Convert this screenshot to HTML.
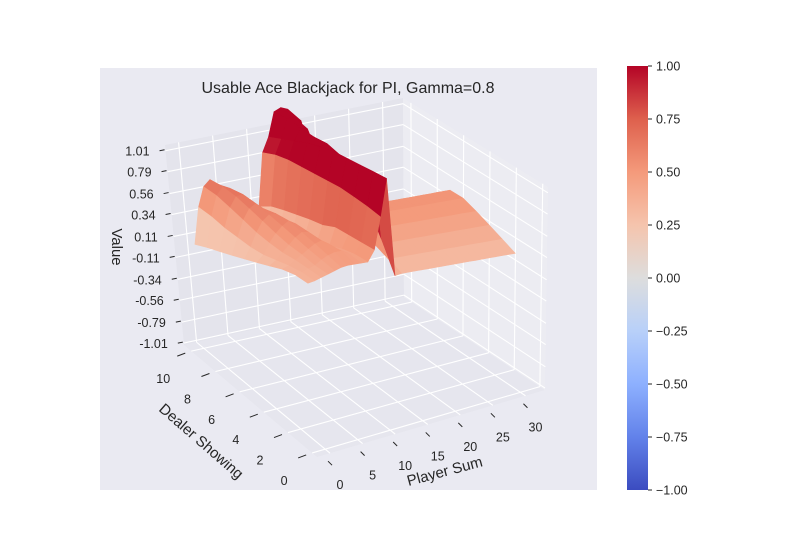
<!DOCTYPE html>
<html><head><meta charset="utf-8"><style>
body{margin:0;background:#fff;}
svg{display:block;font-family:"Liberation Sans",sans-serif;}
</style></head><body>
<svg id="chart" width="800" height="550" viewBox="0 0 800 550">
<rect x="0" y="0" width="800" height="550" fill="#ffffff"/>
<rect x="100" y="68" width="497" height="422" fill="#eaeaf2"/>
<g id="panes"></g><g id="grid"></g><g id="surface"></g><g id="ticks"></g>
<text x="348" y="93" text-anchor="middle" font-size="16" fill="#262626">Usable Ace Blackjack for PI, Gamma=0.8</text>
<text transform="translate(112,247) rotate(90)" text-anchor="middle" font-size="15" fill="#262626">Value</text>
<text transform="translate(198,445) rotate(41)" text-anchor="middle" font-size="15" fill="#262626">Dealer Showing</text>
<text transform="translate(446,476) rotate(-15)" text-anchor="middle" font-size="15" fill="#262626">Player Sum</text>
<defs><linearGradient id="cw" x1="0" y1="1" x2="0" y2="0"></linearGradient></defs>
<rect x="627" y="66" width="21" height="424" fill="url(#cw)"/>
<g id="cbticks"></g>
</svg>
<script>
const dealers=[1,2,3,4,5,6,7,8,9,10];
const players=[0,1,2,3,4,5,6,7,8,9,10,11,12,13,14,15,16,17,18,19,20,21,22,23,24,25,26,27,28,29,30,31];
const row1=[0.35,0.36,0.38,0.4,0.42,0.44,0.45,0.45,0.45,0.45,0.55,0.85,1.2,0.28,0.29,0.29,0.29,0.29,0.29,0.29,0.29,0.29,0.29,0.29,0.29,0.29,0.29,0.29,0.29,0.29,0.29,0.29];
const row2=[0.36,0.37,0.39,0.41,0.45,0.48,0.5,0.5,0.47,0.45,0.55,0.88,1.2,0.55,0.35,0.35,0.35,0.35,0.35,0.35,0.35,0.35,0.35,0.35,0.35,0.35,0.35,0.35,0.35,0.35,0.35,0.35];
const row3=[0.34,0.36,0.4,0.44,0.48,0.52,0.54,0.5,0.45,0.43,0.55,0.9,1.2,0.8,0.41,0.41,0.41,0.41,0.41,0.41,0.41,0.41,0.41,0.41,0.41,0.41,0.41,0.41,0.41,0.41,0.41,0.41];
const row4=[0.3,0.34,0.4,0.46,0.52,0.56,0.55,0.48,0.4,0.38,0.55,0.92,1.2,1.0,0.47,0.47,0.47,0.47,0.47,0.47,0.47,0.47,0.47,0.47,0.47,0.47,0.47,0.47,0.47,0.47,0.47,0.47];
const row5=[0.26,0.32,0.42,0.5,0.56,0.6,0.56,0.44,0.35,0.34,0.5,0.92,1.2,1.15,0.52,0.52,0.52,0.52,0.52,0.52,0.52,0.52,0.52,0.52,0.52,0.52,0.52,0.52,0.52,0.52,0.52,0.52];
const row6=[0.22,0.32,0.45,0.55,0.6,0.6,0.52,0.38,0.3,0.3,0.48,0.92,1.18,1.2,0.7,0.52,0.52,0.52,0.52,0.52,0.52,0.52,0.52,0.52,0.52,0.52,0.52,0.52,0.52,0.52,0.52,0.52];
const row7=[0.18,0.34,0.5,0.6,0.64,0.58,0.45,0.32,0.27,0.27,0.45,0.92,1.15,1.2,0.9,0.3,0.3,0.3,0.3,0.3,0.3,0.3,0.3,0.3,0.3,0.3,0.3,0.3,0.3,0.3,0.3,0.3];
const row8=[0.14,0.36,0.55,0.65,0.66,0.55,0.4,0.3,0.26,0.26,0.42,0.92,1.1,1.22,1.2,0.7,0.1,0.1,0.1,0.1,0.1,0.1,0.1,0.1,0.1,0.1,0.1,0.1,0.1,0.1,0.1,0.1];
const row9=[0.1,0.4,0.6,0.68,0.65,0.5,0.35,0.28,0.25,0.25,0.38,0.9,1.05,1.25,1.25,1.2,0.3,-0.1,-0.1,-0.1,-0.1,-0.1,-0.1,-0.1,-0.1,-0.1,-0.1,-0.1,-0.1,-0.1,-0.1,-0.1];
const row10=[0.05,0.42,0.62,0.68,0.62,0.45,0.32,0.26,0.25,0.25,0.3,0.85,1.0,1.25,1.28,1.25,0.3,-0.2,-0.2,-0.2,-0.2,-0.2,-0.2,-0.2,-0.2,-0.2,-0.2,-0.2,-0.2,-0.2,-0.2,-0.2];
const values=[row1,row2,row3,row4,row5,row6,row7,row8,row9,row10];
const zTickValues=[-1.01,-0.79,-0.56,-0.34,-0.11,0.11,0.34,0.56,0.79,1.01];
const zTickLabels=["-1.01","-0.79","-0.56","-0.34","-0.11","0.11","0.34","0.56","0.79","1.01"];
const dealerTicks=[0,2,4,6,8,10];
const playerTicks=[0,5,10,15,20,25,30];
const cbTicks=[1,0.75,0.5,0.25,0,-0.25,-0.5,-0.75,-1];
const cbLabels=["1.00","0.75","0.50","0.25","0.00","\u22120.25","\u22120.50","\u22120.75","\u22121.00"];

const NS="http://www.w3.org/2000/svg";
const DMIN=-0.4,DMAX=10.6,PMIN=-2,PMAX=33,ZMIN=-1.03,ZMAX=1.07;
const CB={Fb:[317,457],Lb:[184,345],Rb:[545,390],Bb:[404,297],Ft:[310,212],Lt:[165,145],Rt:[548,187],Bt:[403,98]};
function bil(a,b,c,d,u,v){
  return [a[0]*(1-u)*(1-v)+b[0]*u*(1-v)+c[0]*(1-u)*v+d[0]*u*v, a[1]*(1-u)*(1-v)+b[1]*u*(1-v)+c[1]*(1-u)*v+d[1]*u*v];}
function proj(d,p,z){
  const u=(d-DMIN)/(DMAX-DMIN),v=(p-PMIN)/(PMAX-PMIN),w=(z-ZMIN)/(ZMAX-ZMIN);
  const b=bil(CB.Fb,CB.Lb,CB.Rb,CB.Bb,u,v),t=bil(CB.Ft,CB.Lt,CB.Rt,CB.Bt,u,v);
  return [b[0]+(t[0]-b[0])*w,b[1]+(t[1]-b[1])*w];}
const stops=[[59,76,192],[98,130,234],[141,176,254],[184,208,249],[221,221,221],[245,196,173],[244,154,123],[222,96,77],[180,4,38]];
function cmap(t){t=Math.max(0,Math.min(1,t));const s=t*8,i=Math.min(7,Math.floor(s)),f=s-i;
  const c=stops[i].map((a,k)=>Math.round(a+(stops[i+1][k]-a)*f));return `rgb(${c[0]},${c[1]},${c[2]})`;}
function el(tag,attrs,parent){const e=document.createElementNS(NS,tag);for(const k in attrs)e.setAttribute(k,attrs[k]);parent.appendChild(e);return e;}
const pts=a=>a.map(q=>q[0].toFixed(1)+","+q[1].toFixed(1)).join(" ");

const panes=document.getElementById('panes');
let pn=el('polygon',{points:pts([proj(DMIN,PMIN,ZMIN),proj(DMAX,PMIN,ZMIN),proj(DMAX,PMAX,ZMIN),proj(DMIN,PMAX,ZMIN)]),fill:'#e6e6ee'},panes);


pn=el('polygon',{points:pts([proj(DMAX,PMIN,ZMIN),proj(DMAX,PMAX,ZMIN),proj(DMAX,PMAX,ZMAX),proj(DMAX,PMIN,ZMAX)]),fill:'#e4e4ec'},panes);


pn=el('polygon',{points:pts([proj(DMIN,PMAX,ZMIN),proj(DMAX,PMAX,ZMIN),proj(DMAX,PMAX,ZMAX),proj(DMIN,PMAX,ZMAX)]),fill:'#ececf2'},panes);



const grid=document.getElementById('grid');
function gl(a,b){const l=el('line',{x1:a[0],y1:a[1],x2:b[0],y2:b[1],stroke:'#ffffff','stroke-width':1.1},grid);
  
  }
dealerTicks.forEach(d=>{gl(proj(d,PMIN,ZMIN),proj(d,PMAX,ZMIN));gl(proj(d,PMAX,ZMIN),proj(d,PMAX,ZMAX));});
playerTicks.forEach(p=>{gl(proj(DMIN,p,ZMIN),proj(DMAX,p,ZMIN));gl(proj(DMAX,p,ZMIN),proj(DMAX,p,ZMAX));});
zTickValues.forEach(z=>{gl(proj(DMAX,PMIN,z),proj(DMAX,PMAX,z));gl(proj(DMAX,PMAX,z),proj(DMIN,PMAX,z));});

const surf=document.getElementById('surface');
const faces=[];
for(let i=0;i<dealers.length-1;i++)for(let j=0;j<players.length-1;j++){
  const d0=dealers[i],d1=dealers[i+1],p0=players[j],p1=players[j+1];
  const z00=values[i][j],z01=values[i][j+1],z10=values[i+1][j],z11=values[i+1][j+1];
  const depth=((d0+d1)/2-DMIN)/(DMAX-DMIN)+((p0+p1)/2-PMIN)/(PMAX-PMIN)*0.9;
  faces.push({depth,poly:[proj(d0,p0,z00),proj(d0,p1,z01),proj(d1,p1,z11),proj(d1,p0,z10)],z:(z00+z01+z10+z11)/4});}
faces.sort((a,b)=>b.depth-a.depth);
faces.forEach(f=>{const c=cmap((f.z+1)/2);
  const e=el('polygon',{points:pts(f.poly),fill:c,stroke:c,'stroke-width':0.6,'stroke-linejoin':'round'},surf);
  
  });

const tk=document.getElementById('ticks');
function tl(a,b){const l=el('line',{x1:a[0],y1:a[1],x2:b[0],y2:b[1],stroke:'#262626','stroke-width':1},tk);
  
  }
function tt(x,y,s,anchor){const t=el('text',{x:x,y:y,'font-size':12.5,fill:'#262626','text-anchor':anchor},tk);t.textContent=s;
  
  }
zTickValues.forEach((z,k)=>{const a=proj(DMAX,PMIN,z);tl([a[0]-6,a[1]],[a[0]-1,a[1]-1]);tt(a[0]-16,a[1]+5,zTickLabels[k],'end');});
dealerTicks.forEach(d=>{const a=proj(d,PMIN,ZMIN);tl([a[0]-14,a[1]+5],[a[0]-6,a[1]+2]);tt(a[0]-28,a[1]+32,String(d),'middle');});
playerTicks.forEach(p=>{const a=proj(DMIN,p,ZMIN);tl([a[0]-2,a[1]+8],[a[0]+2,a[1]+12]);tt(a[0]+10,a[1]+36,String(p),'middle');});

const g=document.getElementById('cw');
for(let k=0;k<=16;k++){el('stop',{offset:(k/16).toFixed(4),'stop-color':cmap(k/16)},g);}
const cbt=document.getElementById('cbticks');
cbTicks.forEach((v,k)=>{const y=66+(1-v)/2*424;
  const l=el('line',{x1:648,y1:y,x2:652,y2:y,stroke:'#262626','stroke-width':1},cbt);
  
  
  const t=el('text',{x:656,y:y+4.5,'font-size':12.5,fill:'#262626'},cbt);t.textContent=cbLabels[k];
  
  });
</script>
</body></html>
